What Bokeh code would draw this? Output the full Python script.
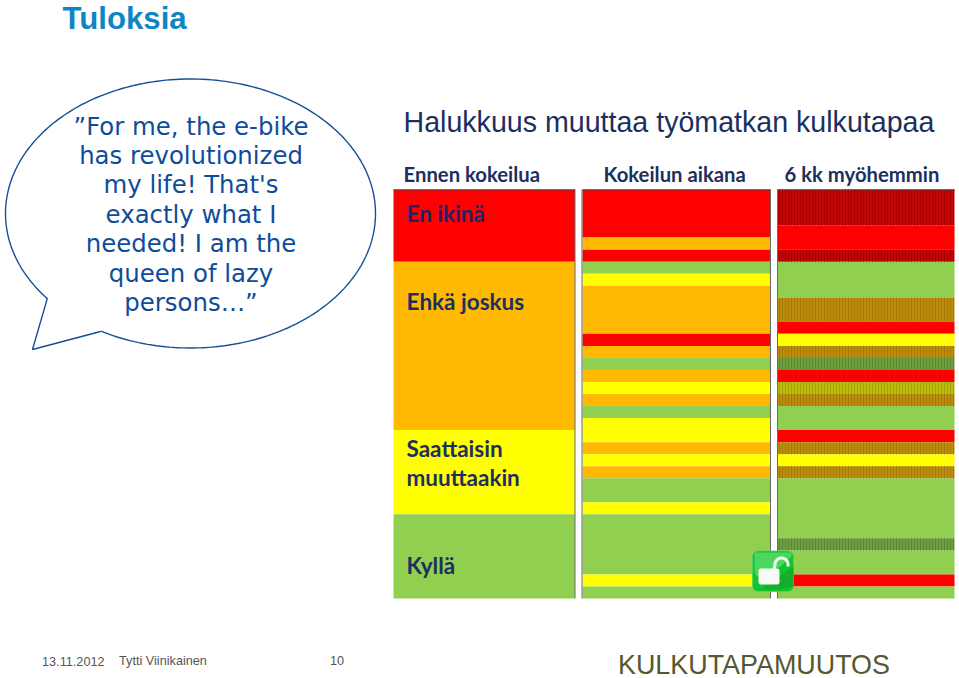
import numpy as np
from bokeh.plotting import figure
from bokeh.models import Range1d, ColumnDataSource
from bokeh.core.properties import value
from bokeh.embed import file_html
from bokeh.resources import INLINE

# ---- chart data: answer categories per time point, run-length coded (rows = respondents)
before_codes = ["R", "O", "Y", "G"]
before_rows = [6, 14, 7, 7]
during_codes = ["R", "O", "R", "G", "Y", "O", "R", "O", "G", "O", "Y", "O", "G", "Y", "O", "Y", "O", "G", "Y", "G", "Y", "G"]
during_rows = [4, 1, 1, 1, 1, 4, 1, 1, 1, 1, 1, 1, 1, 2, 1, 1, 1, 2, 1, 5, 1, 1]
after_codes = ["r", "R", "r", "G", "o", "R", "Y", "o", "g", "R", "y", "o", "G", "R", "o", "Y", "o", "G", "g", "G", "R", "G"]
after_rows = [3, 2, 1, 3, 2, 1, 1, 1, 1, 1, 1, 1, 2, 1, 1, 1, 1, 5, 1, 2, 1, 1]

column_titles = ["Ennen kokeilua", "Kokeilun aikana", "6 kk myöhemmin"]
category_labels = ["En ikinä", "Ehkä joskus", "Saattaisin", "muuttaakin", "Kyllä"]
quote_lines = ["”For me, the e-bike", "has revolutionized", "my life! That's", "exactly what I", "needed! I am the", "queen of lazy", "persons…”"]

# ---- style
FILL = {"R": "#FF0000", "O": "#FFB900", "Y": "#FFFF00", "G": "#90CF50",
        "r": "#C20606", "o": "#BC8C0C", "y": "#BCBC0C", "g": "#6E9E3E"}
HATCH = {"r": "#A80000", "o": "#A67A06", "y": "#A5A506", "g": "#5C8A30"}
NAVY = "#1C2F5E"
BLUE = "#0F4C9A"

W, H = 959, 678
p = figure(width=W, height=H, output_backend="svg", toolbar_location=None,
           x_range=Range1d(0, W), y_range=Range1d(H, 0), min_border=0,
           margin=(0, 0, 0, 0), background_fill_color="white", border_fill_color="white")
p.axis.visible = False
p.grid.visible = False
p.outline_line_color = None

# rows axis: row 0 starts at pixel 189, every row is about 12 px tall
row_top, row_h = 189, 12.03
p.extra_y_ranges["rows"] = Range1d((H - row_top) / row_h, (0 - row_top) / row_h)


def draw_column(codes, rows, left, right):
    ends = np.cumsum(rows)
    starts = ends - np.array(rows)
    src = ColumnDataSource(dict(
        y=(starts + ends) / 2, h=rows,
        c=[FILL[c] for c in codes]))
    p.hbar(y="y", height="h", left=left, right=right, fill_color="c", line_color=None,
           source=src, y_range_name="rows")
    idx = [i for i, c in enumerate(codes) if c in HATCH]
    if idx:
        src2 = ColumnDataSource(dict(
            y=[(starts[i] + ends[i]) / 2 for i in idx], h=[rows[i] for i in idx],
            c=[HATCH[codes[i]] for i in idx]))
        p.hbar(y="y", height="h", left=left, right=right, fill_color=None, line_color=None,
               hatch_pattern="vertical_line", hatch_color="c", hatch_scale=3, hatch_weight=1,
               source=src2, y_range_name="rows")


draw_column(before_codes, before_rows, 393, 574.5)
draw_column(during_codes, during_rows, 582, 770)
draw_column(after_codes, after_rows, 777, 954)

# frame lines of the picture
p.segment(x0=[574.5, 581.5, 770, 777], y0=[189] * 4, x1=[574.5, 581.5, 770, 777], y1=[598] * 4,
          line_color="#6A6A6A", line_width=1)
p.segment(x0=[393, 582, 777], y0=[189.5] * 3, x1=[574.5, 770, 954], y1=[189.5] * 3,
          line_color="#7A2A2A", line_width=1)

# speech bubble
cx, cy, rx, ry = 190, 213, 185, 134.5
a0 = np.arctan2((298 - cy) / ry, (47 - cx) / rx)
a1 = np.arctan2((331 - cy) / ry, (100 - cx) / rx)
# go from the tail's right foot the long way round to its left foot
t = np.linspace(a1, a0 - 2 * np.pi, 240) if a0 > a1 else np.linspace(a1, a0, 240)
bx = np.r_[cx + rx * np.cos(t), 32, 100]
by = np.r_[cy + ry * np.sin(t), 349, 331]
p.line(bx, by, line_color="#164F96", line_width=1.4)

for i, line in enumerate(quote_lines):
    p.text(x=[190.5], y=[125.5 + 29.4 * i], text=[line], text_align="center", text_baseline="middle",
           text_font=value("DejaVu Sans"), text_font_size="24.4px", text_color=BLUE)

# lock icon
def rounded(l, r, t_, b, rad):
    a = np.linspace(0, np.pi / 2, 8)
    xs = np.r_[r - rad + rad * np.sin(a), r - rad + rad * np.cos(a), l + rad - rad * np.sin(a), l + rad - rad * np.cos(a)]
    ys = np.r_[t_ + rad - rad * np.cos(a), b - rad + rad * np.sin(a), b - rad + rad * np.cos(a), t_ + rad - rad * np.sin(a)]
    return xs, ys

lx, ly = rounded(752, 793, 550.5, 591, 6)
p.patch(lx, ly, fill_color="#12C42E", line_color="#4FD45F", line_width=0.8)
p.patch([754, 791, 791, 780, 756, 754], [552, 552, 556, 566, 576, 570], fill_color="#5EDC6C", line_color=None, fill_alpha=0.8)
p.patch([793, 793, 775, 760], [566, 586, 589, 589], fill_color="#17A82A", line_color=None, fill_alpha=0.8)
bx2, by2 = rounded(758, 779, 568, 584, 2.5)
p.patch(bx2, by2, fill_color="#F6FBF6", line_color=None)
sa = np.linspace(np.pi, 2 * np.pi, 20)
p.line(np.r_[773.5, 781 + 6.5 * np.cos(sa), 787.5], np.r_[570, 564 + 6.5 * np.sin(sa), 566],
       line_color="#F0F8F0", line_width=3)

def label(x, y, txt, font, size, color, bold=False):
    p.text(x=[x], y=[y], text=[txt], text_baseline="middle", text_font=value(font),
           text_font_size=size, text_color=color, text_font_style="bold" if bold else "normal")

label(62, 17.5, "Tuloksia", "Liberation Sans", "31.2px", "#0F86C4", True)
label(403, 121, "Halukkuus muuttaa työmatkan kulkutapaa", "Liberation Sans", "28.6px", NAVY)
for x, txt in zip([403, 603, 784], column_titles):
    label(x, 173.5, txt, "Lato", "20.3px", NAVY, True)
for y, txt, col in zip([213, 301, 448, 477, 565], category_labels, ["#2A2060", NAVY, NAVY, NAVY, NAVY]):
    label(406, y, txt, "Lato", "22.5px", col, True)

label(41.5, 660.5, "13.11.2012", "Liberation Sans", "12.7px", "#555555")
label(118.5, 660.5, "Tytti Viinikainen", "Liberation Sans", "12.7px", "#555555")
label(329.5, 659.5, "10", "Liberation Sans", "12.7px", "#555555")
label(617.5, 664, "KULKUTAPAMUUTOS", "Liberation Sans", "26.9px", "#555830")

open("out.html", "w").write(file_html(p, INLINE))
